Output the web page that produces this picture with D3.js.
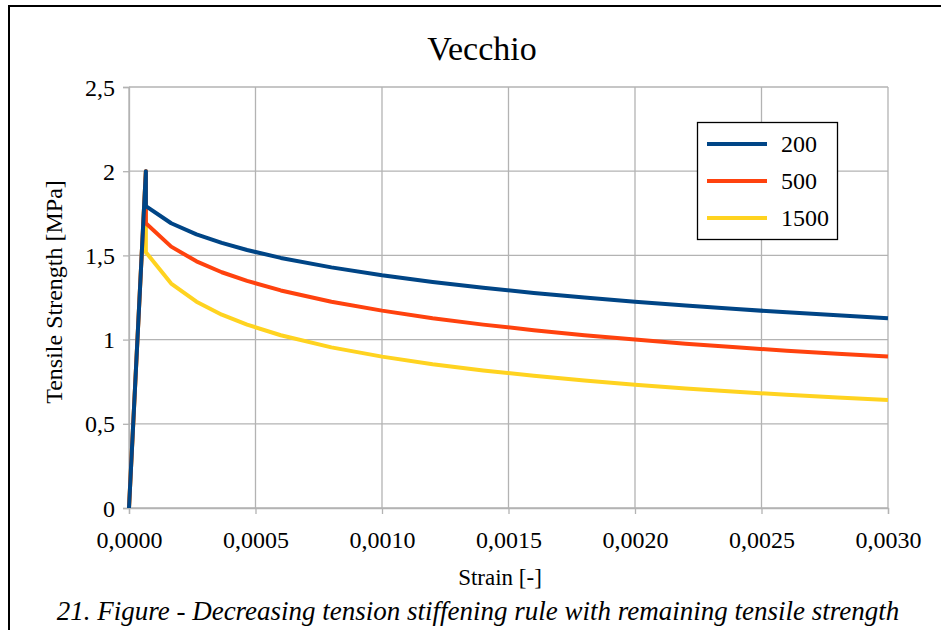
<!DOCTYPE html>
<html>
<head>
<meta charset="utf-8">
<script src="https://cdn.jsdelivr.net/npm/d3@7/dist/d3.min.js"></script>
</head>
<body style="margin:0;padding:0;background:#ffffff">
<svg id="chart" width="941" height="630" style="display:block"></svg>
<script>
// Strain points (shared by all three curves)
const strain = [0, 0.0000667, 0.0000667, 0.0001667, 0.0002667, 0.0003667, 0.0004667,
  0.0006, 0.0008, 0.0010, 0.0012, 0.0014, 0.0016, 0.0018, 0.0020, 0.0022,
  0.0024, 0.0026, 0.0028, 0.0030];

// Tensile stress [MPa] for each tension stiffening coefficient
const s200  = [0, 2, 1.793, 1.691, 1.625, 1.574, 1.532, 1.485, 1.429, 1.382, 1.342,
  1.308, 1.277, 1.250, 1.225, 1.202, 1.181, 1.162, 1.144, 1.127];
const s500  = [0, 2, 1.691, 1.552, 1.465, 1.400, 1.349, 1.292, 1.225, 1.172, 1.127,
  1.089, 1.056, 1.026, 1.000, 0.976, 0.954, 0.934, 0.916, 0.899];
const s1500 = [0, 2, 1.519, 1.333, 1.225, 1.148, 1.089, 1.026, 0.954, 0.899, 0.854,
  0.817, 0.785, 0.757, 0.732, 0.710, 0.690, 0.672, 0.656, 0.641];

const seriesNames = ["200", "500", "1500"];
const seriesColors = ["#004586", "#ff420e", "#ffd320"];
const seriesValues = [s200, s500, s1500];

const xTicks = [0, 0.0005, 0.0010, 0.0015, 0.0020, 0.0025, 0.0030];
const xTickLabels = ["0,0000", "0,0005", "0,0010", "0,0015", "0,0020", "0,0025", "0,0030"];
const yTicks = [0, 0.5, 1, 1.5, 2, 2.5];
const yTickLabels = ["0", "0,5", "1", "1,5", "2", "2,5"];

const SERIF = "Liberation Serif";
const svg = d3.select("#chart");

// Outer frame (top and left edges)
svg.append("path")
  .attr("d", "M9,630 L9,6 L941,6")
  .attr("fill", "none").attr("stroke", "#000").attr("stroke-width", 2);

const x = d3.scaleLinear().domain([0, 0.003]).range([129, 888]);
const y = d3.scaleLinear().domain([0, 2.5]).range([508, 87]);

const grid = "#b3b3b3";

// Gridlines
svg.append("g").selectAll("line").data(yTicks).join("line")
  .attr("x1", x(0)).attr("x2", x(0.003))
  .attr("y1", d => y(d)).attr("y2", d => y(d))
  .attr("stroke", grid).attr("stroke-width", 1.3);
svg.append("g").selectAll("line").data(xTicks).join("line")
  .attr("x1", d => x(d)).attr("x2", d => x(d))
  .attr("y1", y(0)).attr("y2", y(2.5))
  .attr("stroke", grid).attr("stroke-width", 1.3);

// Axes
const xAxis = d3.axisBottom(x).tickValues(xTicks)
  .tickFormat((d, i) => xTickLabels[i]).tickSize(6).tickPadding(17);
const yAxis = d3.axisLeft(y).tickValues(yTicks)
  .tickFormat((d, i) => yTickLabels[i]).tickSize(6).tickPadding(8);

const gx = svg.append("g").attr("transform", `translate(0,${y(0)})`).call(xAxis);
const gy = svg.append("g").attr("transform", `translate(${x(0)},0)`).call(yAxis);
[gx, gy].forEach(g => {
  g.attr("font-family", null).attr("font-size", null);
  g.select(".domain").attr("stroke", grid).attr("stroke-width", 1.3);
  g.selectAll(".tick line").attr("stroke", grid).attr("stroke-width", 1.3);
  g.selectAll(".tick text").style("font-family", SERIF)
    .style("font-size", "24px").attr("fill", "#000");
});
gy.selectAll(".tick text").attr("dy", "0.34em");

// Curves: yellow, orange, then blue on top
const line = d3.line().x((d, i) => x(strain[i])).y(d => y(d));
[2, 1, 0].forEach(k => {
  svg.append("path")
    .datum(seriesValues[k])
    .attr("d", line)
    .attr("fill", "none")
    .attr("stroke", seriesColors[k])
    .attr("stroke-width", 4)
    .attr("stroke-linejoin", "round");
});

function label(xp, yp, size, str, anchor) {
  return svg.append("text").attr("x", xp).attr("y", yp)
    .attr("text-anchor", anchor || "middle")
    .style("font-family", SERIF).style("font-size", size + "px")
    .attr("fill", "#000").text(str);
}

// Title
label(482, 60, 34, "Vecchio");

// Axis titles
label(500, 585, 23, "Strain [-]");
label(0, 0, 24, "Tensile Strength [MPa]")
  .attr("transform", "translate(62,292) rotate(-90)");

// Legend
const lg = svg.append("g");
lg.append("rect").attr("x", 697.5).attr("y", 122.5).attr("width", 140).attr("height", 117)
  .attr("fill", "#fff").attr("stroke", "#000").attr("stroke-width", 1.3);
seriesNames.forEach((name, i) => {
  const cy = 144 + i * 37;
  lg.append("line").attr("x1", 707).attr("x2", 767).attr("y1", cy).attr("y2", cy)
    .attr("stroke", seriesColors[i]).attr("stroke-width", 4);
  label(781, cy, 24, name, "start").attr("dy", "0.35em");
});

// Caption
label(478, 620, 27, "21. Figure - Decreasing tension stiffening rule with remaining tensile strength")
  .style("font-style", "italic");
</script>
</body>
</html>
